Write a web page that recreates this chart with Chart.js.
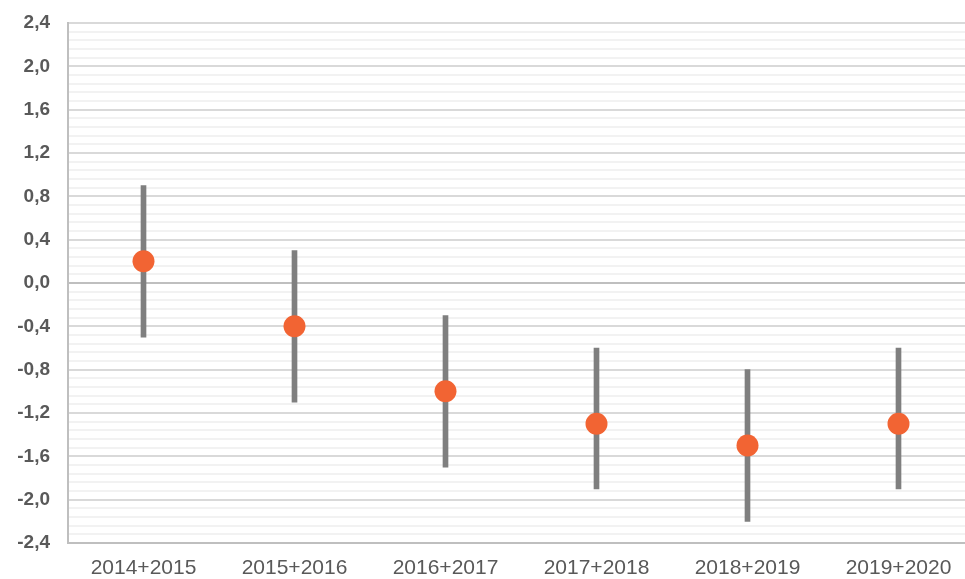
<!DOCTYPE html>
<html>
<head>
<meta charset="utf-8">
<script src="https://cdn.jsdelivr.net/npm/chart.js@4"></script>
<style>
  html, body { margin: 0; padding: 0; background: #fff; overflow: hidden; }
  #wrap { width: 974px; height: 579px; }
</style>
</head>
<body>
<div id="wrap"><canvas id="estimates" width="974" height="579"></canvas></div>
<script>
const ctxEstimates = document.getElementById('estimates').getContext('2d')

const categories = ['2014+2015', '2015+2016', '2016+2017', '2017+2018', '2018+2019', '2019+2020']
const estimates = [0.2, -0.4, -1.0, -1.3, -1.5, -1.3]
const upper = [0.9, 0.3, -0.3, -0.6, -0.8, -0.6]
const lower = [-0.5, -1.1, -1.7, -1.9, -2.2, -1.9]

// labelled ticks, each gap split into 5 minor gridlines
const majorTicks = [-2.4, -2.0, -1.6, -1.2, -0.8, -0.4, 0, 0.4, 0.8, 1.2, 1.6, 2.0, 2.4]
const minorSplit = 5

const gridValues = []
majorTicks.forEach((v, i) => {
  gridValues.push({ value: v, major: true })
  if (i < majorTicks.length - 1) {
    const step = (majorTicks[i + 1] - v) / minorSplit
    for (let k = 1; k < minorSplit; k++) {
      gridValues.push({ value: v + step * k, major: false })
    }
  }
})

const fontFamily = "'Liberation Sans', Arial, sans-serif"

const configEstimates = {
  type: 'bar',
  data: {
    labels: categories,
    datasets: [
      {
        type: 'line',
        data: estimates,
        showLine: false,
        pointRadius: 11,
        pointHoverRadius: 11,
        pointBackgroundColor: '#f26433',
        pointBorderWidth: 0,
        order: 0,
      },
      {
        type: 'bar',
        data: categories.map((c, i) => [lower[i], upper[i]]),
        backgroundColor: '#7f7f7f',
        barThickness: 5,
        order: 1,
      },
    ],
  },
  options: {
    responsive: false,
    animation: false,
    layout: {
      // no extra room for point radius, plot runs to the canvas edge
      autoPadding: false,
      padding: { top: 23, left: 0, right: 0, bottom: 0 },
    },
    plugins: {
      legend: { display: false },
      tooltip: { enabled: false },
    },
    scales: {
      x: {
        afterFit: axis => {
          axis.height = 36
          axis.paddingLeft = 0
          axis.paddingRight = 0
        },
        grid: { display: false, drawTicks: false },
        border: { display: true, color: '#bfbfbf', width: 2 },
        ticks: {
          color: '#595959',
          padding: 13,
          font: { family: fontFamily, size: 21 },
        },
      },
      y: {
        min: -2.4,
        max: 2.4,
        afterBuildTicks: axis => {
          axis.ticks = gridValues.map(t => ({ value: t.value, major: t.major }))
        },
        afterFit: axis => {
          axis.width = 68
          axis.paddingTop = 0
          axis.paddingBottom = 0
        },
        border: { display: true, color: '#bfbfbf', width: 2 },
        grid: {
          drawTicks: false,
          lineWidth: 2,
          color: context => {
            const t = context.tick
            if (!t) return '#f2f2f2'
            if (Math.abs(t.value) < 1e-9) return '#bfbfbf'
            return t.major ? '#d9d9d9' : '#f2f2f2'
          },
        },
        ticks: {
          autoSkip: false,
          color: '#595959',
          padding: 18,
          font: { family: fontFamily, size: 19, weight: 'bold' },
          callback: function (value, index, ticks) {
            if (!ticks[index].major) return ''
            return value.toFixed(1).replace('.', ',').replace('-0,0', '0,0')
          },
        },
      },
    },
  },
}
const estimatesChart = new Chart(ctxEstimates, configEstimates)
</script>
</body>
</html>
